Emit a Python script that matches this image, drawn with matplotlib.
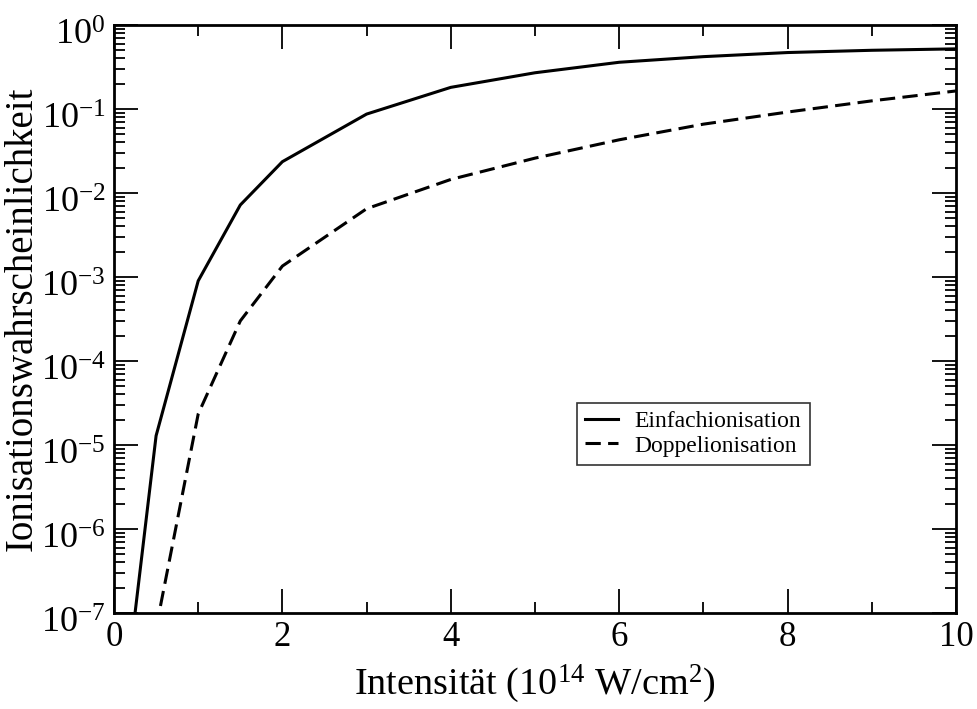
import numpy as np
import matplotlib
matplotlib.use("Agg")
from matplotlib import pyplot as plt
from matplotlib import transforms
from matplotlib.ticker import MultipleLocator, LogLocator, NullFormatter, FixedLocator

plt.rcParams['font.family'] = ['Liberation Serif', 'DejaVu Serif']
plt.rcParams['mathtext.fontset'] = 'custom'
plt.rcParams['mathtext.rm'] = 'Liberation Serif'
plt.rcParams['mathtext.it'] = 'Liberation Serif:italic'

# Intensity in 1e14 W/cm^2
intens_single = [0.25, 0.5, 1.0, 1.5, 2.0, 3.0, 4.0, 5.0, 6.0, 7.0, 8.0, 9.0, 10.0]
prob_single = [1.0e-7, 1.29e-5, 9.0e-4, 7.2e-3, 0.0236, 0.087, 0.181, 0.27, 0.36,
               0.42, 0.47, 0.50, 0.52]

intens_double = [0.5, 1.0, 1.5, 2.0, 3.0, 4.0, 5.0, 6.0, 7.0, 8.0, 9.0, 10.0]
prob_double = [6.6e-8, 2.34e-5, 3.0e-4, 1.35e-3, 6.5e-3, 0.0145, 0.026, 0.043,
               0.066, 0.092, 0.125, 0.164]

fig = plt.figure(figsize=(9.78, 7.09), dpi=100)
ax = fig.add_axes([114/978, 1-613/709, (956-114)/978, (613-25)/709])

ax.plot(intens_single, prob_single, color='black', lw=2.2, label='Einfachionisation')
ax.plot(intens_double, prob_double, color='black', lw=2.2, linestyle=(0, (5, 2.4)),
        label='Doppelionisation')

ax.set_yscale('log')
ax.set_xlim(0, 10)
ax.set_ylim(1e-7, 1)

ax.xaxis.set_major_locator(MultipleLocator(2))
ax.xaxis.set_minor_locator(MultipleLocator(1))
ax.yaxis.set_major_locator(FixedLocator([10.0**k for k in range(-7, 1)]))
ax.yaxis.set_minor_locator(LogLocator(base=10, subs=np.arange(2, 10), numticks=20))
ax.yaxis.set_minor_formatter(NullFormatter())
ax.set_yticklabels(['$10^{-%d}$' % k if k else '$10^{0}$' for k in range(7, -1, -1)])

ax.tick_params(which='both', direction='in', top=True, right=True, width=1.3)
ax.tick_params(which='major', length=17, labelsize=26, pad=6)
ax.tick_params(axis='x', which='major', labelsize=25)
ax.tick_params(which='minor', length=8)
for s in ax.spines.values():
    s.set_linewidth(2)

# Grace puts the base a bit below the tick, push the y labels down
shift = transforms.ScaledTranslation(0, -7/100, fig.dpi_scale_trans)
for lab in ax.get_yticklabels():
    lab.set_transform(lab.get_transform() + shift)

ax.set_xlabel('Intensität ($10^{14}$ W/cm$^{2}$)', fontsize=27.5, labelpad=6)
ax.set_ylabel('Ionisationswahrscheinlichkeit', fontsize=28, labelpad=0)

leg = ax.legend(loc='lower left', bbox_to_anchor=((577-114)/842, (613-465)/588),
                fontsize=17, frameon=True, fancybox=False, handlelength=1.4,
                borderpad=0.35, labelspacing=0.12, handletextpad=0.7, borderaxespad=0)
leg.get_frame().set_edgecolor('black')
leg.get_frame().set_linewidth(1.2)

fig.savefig('out.png', dpi=100)
